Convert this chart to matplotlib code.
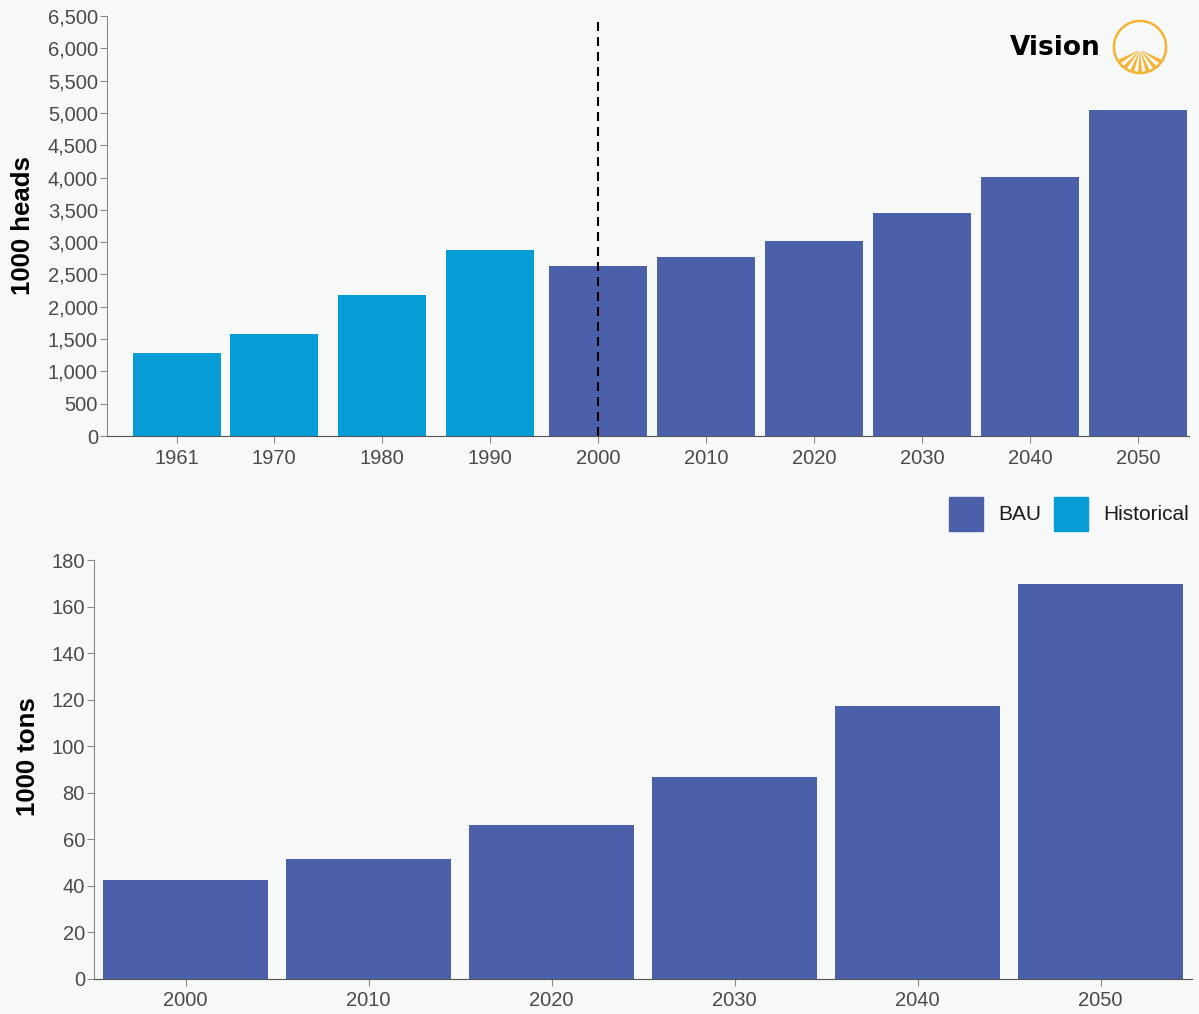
import numpy as np
import matplotlib
matplotlib.use('Agg')
import matplotlib.pyplot as plt
from matplotlib.patches import Rectangle, Circle, Wedge
from matplotlib.ticker import FuncFormatter

# data
hist_years = [1961, 1970, 1980, 1990]
hist_heads = [1280, 1578, 2182, 2879]
bau_years = [2000, 2010, 2020, 2030, 2040, 2050]
bau_heads = [2631, 2770, 3018, 3451, 4008, 5045]
bau_tons = [42.5, 51.6, 66.2, 86.8, 117.3, 169.7]
top_ticks = [1961, 1970, 1980, 1990, 2000, 2010, 2020, 2030, 2040, 2050]

BAU_COLOR = '#4c5fa9'
HIST_COLOR = '#069dd6'
BG = '#f7f9f8'
TICK_COLOR = '#4a4a4a'

plt.rcParams['font.family'] = ['Liberation Sans', 'DejaVu Sans']

W, H = 1199, 1014
fig = plt.figure(figsize=(W / 100, H / 100), dpi=100, facecolor=BG)


def style_axis(ax, spine_color):
    ax.set_facecolor(BG)
    for s in ['top', 'right']:
        ax.spines[s].set_visible(False)
    ax.spines['left'].set_color('#8a8a8a')
    ax.spines['bottom'].set_color(spine_color)
    ax.tick_params(axis='both', colors='#8a8a8a', labelcolor=TICK_COLOR, labelsize=14.5, length=5)
    ax.tick_params(axis='y', pad=1.5)
    ax.tick_params(axis='x', pad=4)


# top chart: heads
ax1 = fig.add_axes([107 / W, 1 - 436 / H, 1082 / W, 420 / H])
style_axis(ax1, '#555555')
ax1.bar(hist_years, hist_heads, width=8.15, color=HIST_COLOR, label='Historical')
ax1.bar(bau_years, bau_heads, width=9.07, color=BAU_COLOR, label='BAU')
ax1.set_xlim(1954.54, 2054.72)
ax1.set_ylim(0, 6500)
ax1.set_yticks(np.arange(0, 6501, 500))
ax1.yaxis.set_major_formatter(FuncFormatter(lambda v, p: '{:,.0f}'.format(v)))
ax1.set_xticks(top_ticks)
ax1.set_xticklabels([str(y) for y in top_ticks])
ax1.axvline(2000, color='black', lw=1.5, dashes=(4.3, 2.9))
ax1.set_ylabel('1000 heads', fontsize=18.5, fontweight='bold')
ax1.yaxis.set_label_coords(-0.067, 0.5)

# bottom chart: tons
ax2 = fig.add_axes([94 / W, 1 - 979 / H, 1098 / W, 419 / H])
style_axis(ax2, '#555555')
xpos = np.arange(len(bau_years))
ax2.bar(xpos, bau_tons, width=0.9, color=BAU_COLOR)
ax2.set_xlim(-0.5, len(bau_years) - 0.5)
ax2.set_ylim(0, 180)
ax2.set_yticks(np.arange(0, 181, 20))
ax2.set_xticks(xpos)
ax2.set_xticklabels([str(y) for y in bau_years])
ax2.set_ylabel('1000 tons', fontsize=18.5, fontweight='bold')
ax2.yaxis.set_label_coords(-0.049, 0.531)

# legend
for (x0, label, col) in [(949, 'BAU', BAU_COLOR), (1054, 'Historical', HIST_COLOR)]:
    fig.patches.append(Rectangle((x0 / W, 1 - 531 / H), 34 / W, 34 / H,
                                 transform=fig.transFigure, color=col))
    fig.text((x0 + 49) / W, 1 - 515 / H, label, fontsize=15, color='#1a1a1a', va='center', ha='left')

# logo
fig.text(1010 / W, 1 - 48 / H, 'Vision', family='DejaVu Sans', fontweight='bold',
         fontsize=19, color='black', va='center', ha='left')
lax = fig.add_axes([1110 / W, 1 - 77 / H, 60 / W, 60 / H])
lax.set_xlim(-1.15, 1.15)
lax.set_ylim(-1.15, 1.15)
lax.axis('off')
orange = '#f6b333'
ring = Circle((0, 0), 1.0, fill=False, ec=orange, lw=1.8)
lax.add_patch(ring)
clip = Circle((0, 0), 0.97, transform=lax.transData)
angles = np.linspace(195, 345, 16)
for i in range(len(angles) - 1):
    if i % 2 == 1:
        w = Wedge((0, -0.1), 1.3, angles[i], angles[i + 1], width=1.2, color=orange, lw=0)
        lax.add_patch(w)
        w.set_clip_path(clip)

fig.savefig('out.png', dpi=100, facecolor=BG)
